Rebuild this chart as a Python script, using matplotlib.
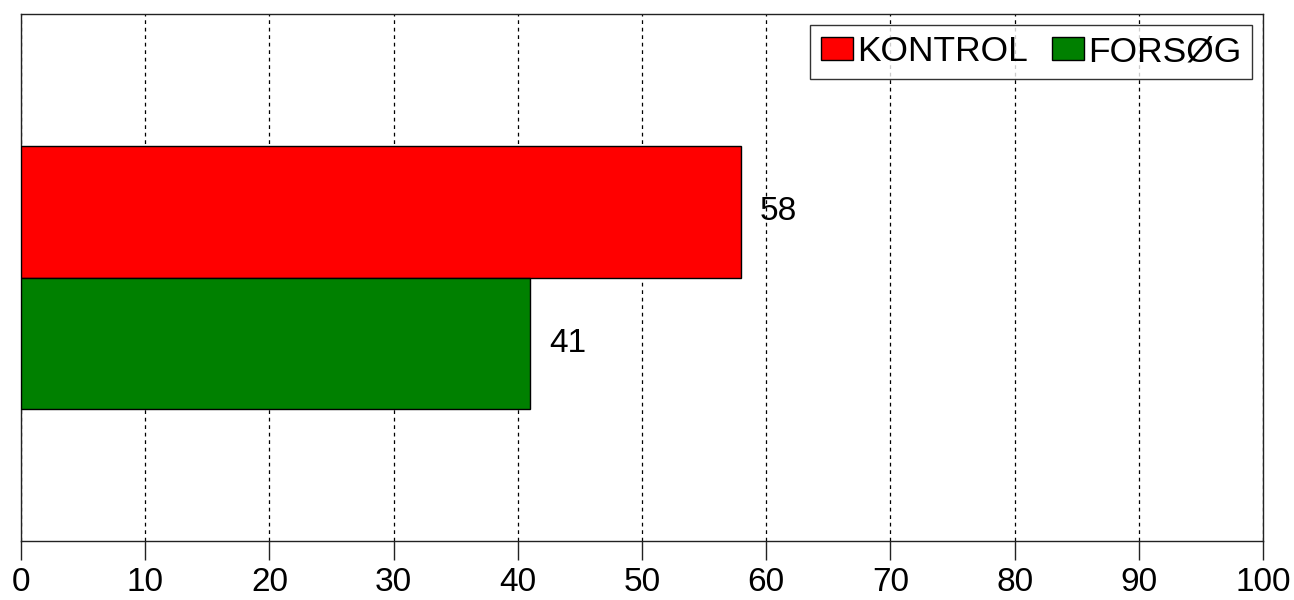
import matplotlib
matplotlib.use('Agg')
import matplotlib.pyplot as plt

plt.rcParams['font.family'] = ['Liberation Sans', 'DejaVu Sans']

# data
groups = ['KONTROL', 'FORSØG']
values = [58, 41]
colors = ['#ff0000', '#008000']
positions = [2.5, 1.5]
x_ticks = list(range(0, 101, 10))

fig = plt.figure(figsize=(12.94, 6), dpi=100)
ax = fig.add_axes([21 / 1294, 59 / 600, 1242 / 1294, 527 / 600])

for g, v, c, p in zip(groups, values, colors, positions):
    ax.barh(p, v, height=1, color=c, edgecolor='black', linewidth=1, label=g, zorder=3)
    ax.text(v + 1.5, p, str(v), ha='left', va='center', fontsize=24, zorder=4)

ax.set_xlim(0, 100)
ax.set_ylim(0, 4)
ax.set_xticks(x_ticks)
ax.set_yticks([])
ax.tick_params(axis='x', direction='out', length=14, width=1, labelsize=24, pad=5, color='#222222')
ax.xaxis.grid(True, linestyle=(0, (3, 3)), color='black', linewidth=0.9, zorder=0)
for s in ax.spines.values():
    s.set_color('#222222')
    s.set_linewidth(1)

leg = ax.legend(loc='upper right', ncol=2, fontsize=25.5, frameon=True, fancybox=False,
                handlelength=0.92, handleheight=0.62, handletextpad=0.12, columnspacing=0.66,
                borderpad=0.3, borderaxespad=0.3)
leg.get_frame().set_edgecolor('black')
leg.get_frame().set_linewidth(1)

fig.savefig('out.png', dpi=100)
